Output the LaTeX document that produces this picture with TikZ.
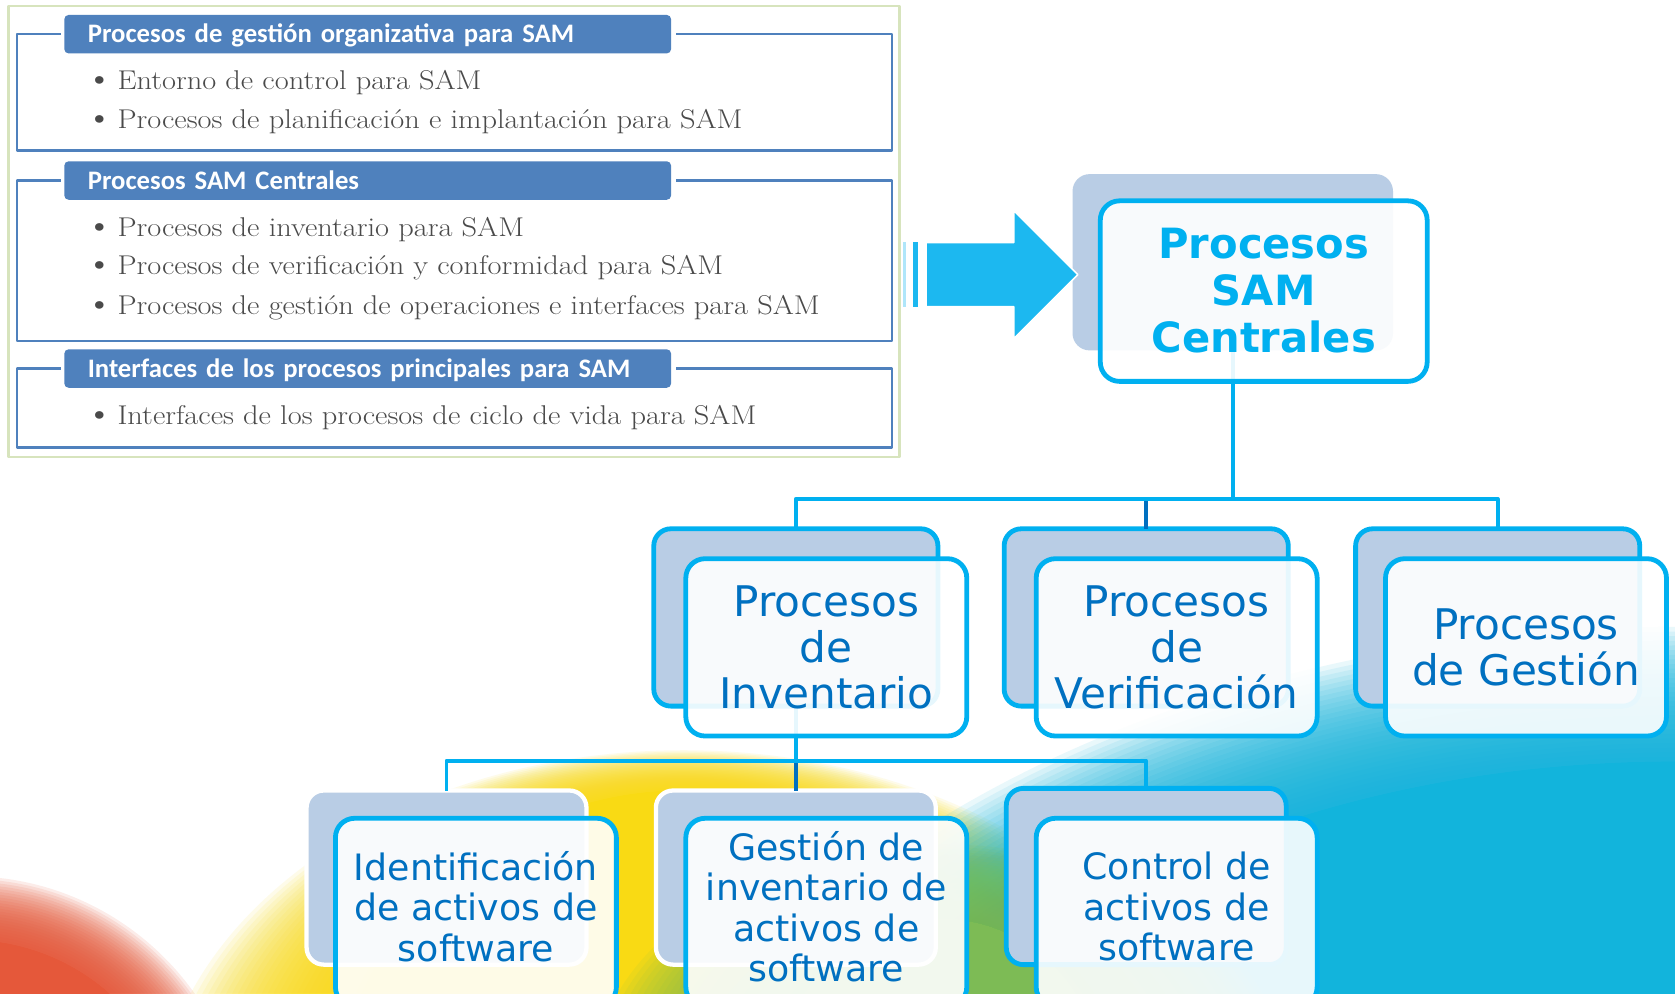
\documentclass[tikz,border=0pt]{standalone}
\usepackage{fontspec}
\newfontfamily\calfont{Carlito}
\newfontfamily\verfont{DejaVu Sans}
\newfontfamily\itemfont{Latin Modern Roman}[FakeStretch=1.12]
\usetikzlibrary{positioning}

\definecolor{samcyan}{HTML}{00B0F0}
\definecolor{samdark}{HTML}{0070C0}
\definecolor{samgray}{HTML}{B9CDE5}
\definecolor{hdrblue}{HTML}{4F81BD}
\definecolor{txtgray}{HTML}{4A4A4A}
\definecolor{panelgreen}{HTML}{D7E4BD}
\definecolor{arrowcyan}{HTML}{1CB8F0}
\definecolor{bgcyan}{HTML}{12B4DC}
\definecolor{bgyellow}{HTML}{F9DA14}
\definecolor{bgred}{HTML}{E5583A}
\definecolor{bggreen}{HTML}{7DBB55}

\begin{document}
\begin{tikzpicture}[
		x = 1pt,
		y = -1pt,
		line join = round,
		backbox/.style = {rectangle, rounded corners=16pt, fill=samgray, inner sep=0pt, outer sep=0pt},
		frontbox/.style = {rectangle, rounded corners=18pt, draw=samcyan, line width=4.5pt, fill=white, fill opacity=.9, text opacity=1, outer sep=0pt, align=center, text=samdark},
		hdrbox/.style = {rectangle, rounded corners=4pt, fill=hdrblue, text=white, font=\calfont\bfseries\fontsize{25pt}{28pt}\selectfont, minimum width=568pt, minimum height=36pt, inner xsep=22pt, text width=524pt, align=left, text height=19pt, text depth=3pt, anchor=west},
		itemtxt/.style = {text=txtgray, font=\itemfont\fontsize{25.4pt}{28pt}\selectfont, inner sep=0pt, anchor=west, text height=18pt, text depth=6pt},
		frameline/.style = {draw=hdrblue, line width=2.2pt},
		conn/.style = {draw=samcyan, line width=3.6pt},
		conndark/.style = {draw=samdark, line width=3.6pt},
		lvltwo/.style = {font=\verfont\fontsize{39.5pt}{43pt}\selectfont, minimum width=263pt, minimum height=166pt, anchor=north west},
		lvlthree/.style = {font=\verfont\fontsize{34pt}{38pt}\selectfont, minimum width=263pt, minimum height=176pt, text depth=11pt, anchor=north west},
		]
\newcommand\vineta{{\fontsize{32pt}{28pt}\selectfont\textbullet}\hspace{4pt}}
\useasboundingbox	(0,0) rectangle (1568,930);
\clip			(0,0) rectangle (1568,930);
\fill[white]		(0,0) rectangle (1568,930);

% manchas de color, bordes suaves por capas
\fill[bgyellow]	(640,1060) ellipse [x radius=330, y radius=320];
\foreach \k in {0,...,29}
	\fill[bgyellow, opacity=.09]	(640,1060) ellipse [x radius={330+\k*5.7}, y radius={320+\k*1.3}];
\fill[bgred]	(-30,1080) circle [radius=200];
\foreach \k in {0,...,23}
	\fill[bgred, opacity=.11]	(-30,1080) circle [radius={200+\k*2.6}];
\fill[bgcyan]	(1568,1300) ellipse [x radius=854, y radius=587];
\foreach \k in {0,...,29}
	\fill[bgcyan, opacity=.09]	(1568,1300) ellipse [x radius={854+\k*6.3}, y radius={587+\k*4.35}];
\fill[bggreen]	(880,1010) ellipse [x radius=150, y radius=150];
\foreach \k in {0,...,29}
	\fill[bggreen, opacity=.09]	(880,1010) ellipse [x radius={150+\k*6}, y radius={150+\k*2.4}];

% cuadro de la norma
\draw[panelgreen, line width=2pt, fill=white]	(8,6) rectangle (842,428);

\node[hdrbox] (h1) at (60,32) {Procesos de gestión organizativa para SAM};
\draw[frameline]	(h1.west) ++(-3,0) -| (16,141) -| (835,32) -- ([xshift=4pt]h1.east);
\node[itemtxt] (i11) at (80,78)  {\vineta Entorno de control para SAM};
\node[itemtxt] (i12) at (80,114) {\vineta Procesos de planificación e implantación para SAM};

\node[hdrbox] (h2) at (60,169) {Procesos SAM Centrales};
\draw[frameline]	(h2.west) ++(-3,0) -| (16,319) -| (835,169) -- ([xshift=4pt]h2.east);
\node[itemtxt] (i21) at (80,215) {\vineta Procesos de inventario para SAM};
\node[itemtxt] (i22) at (80,251) {\vineta Procesos de verificación y conformidad para SAM};
\node[itemtxt] (i23) at (80,288) {\vineta Procesos de gestión de operaciones e interfaces para SAM};

\node[hdrbox] (h3) at (60,345) {Interfaces de los procesos principales para SAM};
\draw[frameline]	(h3.west) ++(-3,0) -| (16,419) -| (835,345) -- ([xshift=4pt]h3.east);
\node[itemtxt] (i31) at (80,391) {\vineta Interfaces de los procesos de ciclo de vida para SAM};

% cajas de fondo del organigrama
\node[backbox, minimum width=300pt, minimum height=165pt, anchor=north west] (central) at (1004,163) {};
\node[backbox, draw=samcyan, line width=4.5pt, minimum width=266pt, minimum height=166pt, anchor=north west] (inv) at (612,495) {};
\node[backbox, draw=samcyan, line width=4.5pt, minimum width=266pt, minimum height=166pt, anchor=north west] (ver) at (940,495) {};
\node[backbox, draw=samcyan, line width=4.5pt, minimum width=266pt, minimum height=166pt, anchor=north west] (ges) at (1269,495) {};
\node[backbox, draw=white, line width=4pt, minimum width=262pt, minimum height=163pt, anchor=north west] (ident) at (287,740) {};
\node[backbox, draw=white, line width=4pt, minimum width=262pt, minimum height=163pt, anchor=north west] (gestinv) at (614,740) {};
\node[backbox, draw=samcyan, line width=4.5pt, minimum width=262pt, minimum height=165pt, anchor=north west] (ctrl) at (942,738) {};

% conectores
\coordinate (bus1) at (0,467);
\coordinate (bus2) at (0,712);
\draw[conndark]	(ver.north) -- (ver.north |- bus1);
\draw[conn]	(central.south) -- (central.south |- bus1);
\draw[conn]	(inv.north) |- (ges.north |- bus1) -- (ges.north);
\draw[conndark]	(gestinv.north) -- (gestinv.north |- bus2);
\draw[conn]	(inv.south) -- (inv.south |- bus2);
\draw[conn]	(ident.north) |- (ctrl.north |- bus2) -- (ctrl.north);

% flecha
\fill[arrowcyan!35]	(845,227) rectangle (848,287);
\fill[arrowcyan]	(855,227) rectangle (859,287);
\draw[white, line width=1.5pt, fill=arrowcyan]	(867,227) -- (949,227) -- (949,197) -- (1009,257)
				-- (949,317) -- (949,287) -- (867,287) -- cycle;

% cajas de delante
\node[frontbox, minimum width=306pt, minimum height=169pt, anchor=north west, text=samcyan,
	font=\verfont\bfseries\fontsize{39pt}{44pt}\selectfont] (centralF) at ([shift={(26,25)}]central.north west) {Procesos\\SAM\\Centrales};
\node[frontbox, lvltwo] (invF) at ([shift={(30,28)}]inv.north west) {Procesos\\de\\Inventario};
\node[frontbox, lvltwo] (verF) at ([shift={(30,28)}]ver.north west) {Procesos\\de\\Verificación};
\node[frontbox, lvltwo] (gesF) at ([shift={(28,28)}]ges.north west) {Procesos\\de Gestión};
\node[frontbox, lvlthree] (identF) at ([shift={(27,26)}]ident.north west) {Identificación\\de activos de\\software};
\node[frontbox, lvlthree] (gestinvF) at ([shift={(28,26)}]gestinv.north west) {Gestión de\\inventario de\\activos de\\software};
\node[frontbox, lvlthree] (ctrlF) at ([shift={(28,28)}]ctrl.north west) {Control de\\activos de\\software};
\end{tikzpicture}
\end{document}
